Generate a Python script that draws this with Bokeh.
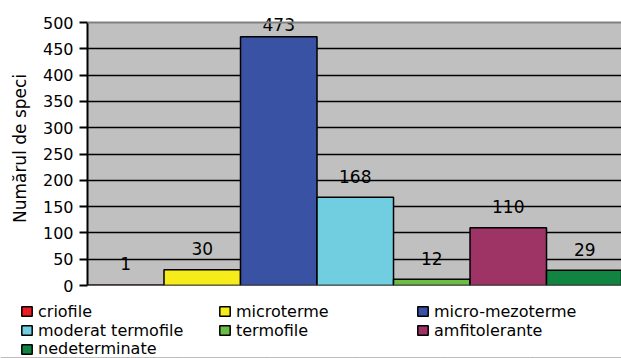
from bokeh.plotting import figure
from bokeh.models import (ColumnDataSource, FixedTicker, Range1d, Legend, LegendItem,
                          LabelSet, Span, BoxAnnotation)
from bokeh.core.properties import value
from bokeh.embed import file_html
from bokeh.resources import INLINE

# Ecological groups of species and their counts
categories = ["criofile", "microterme", "micro-mezoterme", "moderat termofile",
              "termofile", "amfitolerante", "nedeterminate"]
counts = [1, 30, 473, 168, 12, 110, 29]
colors = ["#ED1C24", "#F6EB1B", "#3A52A3", "#71CEE0", "#6BBD45", "#9D3465", "#128441"]
y_ticks = [0, 50, 100, 150, 200, 250, 300, 350, 400, 450, 500]

FONT = "DejaVu Sans"
W = 621
CHART_H, LEGEND_H = 295, 63
LEFT, TOP = 87, 11          # frame origin in pixels
Y_MAX = 500
TOP_PX, ZERO_PX = 22, 285   # pixel rows of 500 and 0
ppu = (ZERO_PX - TOP_PX) / Y_MAX
FRAME_H = CHART_H - TOP - 10
y_end = Y_MAX + (TOP_PX - TOP) / ppu
y_start = -(TOP + FRAME_H - ZERO_PX) / ppu

x = list(range(len(categories)))
# value labels float above each bar, kept just under the top edge for the tallest one
offsets = [min(21.0, (Y_MAX - c) * ppu - 2.0) for c in counts]

src = ColumnDataSource(dict(x=x, top=counts, color=colors, name=categories,
                            label=[str(c) for c in counts], yoff=offsets))

p = figure(width=W, height=CHART_H, output_backend="svg", toolbar_location=None,
           x_range=Range1d(-0.5, 6.48), y_range=Range1d(y_start, y_end),
           min_border_left=LEFT, min_border_top=TOP, min_border_right=0,
           min_border_bottom=10)

p.background_fill_color = "white"
p.border_fill_color = "white"
p.outline_line_color = None

# grey plot area covering 0..500
p.add_layout(BoxAnnotation(bottom=0, top=Y_MAX, fill_color="#C0C0C0", fill_alpha=1.0,
                           line_color=None, level="image"))

bars = p.vbar(x="x", top="top", width=1.0, bottom=0, source=src,
              fill_color="color", line_color="black", line_width=1.5)

p.add_layout(LabelSet(x="x", y="top", text="label", source=src, y_offset="yoff",
                      text_align="center", text_baseline="middle",
                      text_font=value(FONT), text_font_size=value("17px"),
                      text_color="black"))

# edges of the plot area at 0 and 500
p.add_layout(Span(location=Y_MAX, dimension="width", line_color="#808080", line_width=2))
p.add_layout(Span(location=0, dimension="width", line_color="#5A5A5A", line_width=1.5))

p.xaxis.visible = False
p.xgrid.visible = False

p.ygrid.ticker = FixedTicker(ticks=y_ticks[1:-1])
p.ygrid.grid_line_color = "black"
p.ygrid.grid_line_width = 1.5

ya = p.yaxis[0]
ya.ticker = FixedTicker(ticks=y_ticks)
ya.bounds = (0, Y_MAX)
ya.axis_line_color = "black"
ya.axis_line_width = 2
ya.major_tick_line_color = "black"
ya.major_tick_line_width = 2
ya.major_tick_out = 8
ya.major_tick_in = 0
ya.minor_tick_line_color = None
ya.major_label_text_font = FONT
ya.major_label_text_font_size = "16px"
ya.major_label_text_color = "black"
ya.major_label_standoff = 6
ya.axis_label = "Numărul de speci"
ya.axis_label_text_font = FONT
ya.axis_label_text_font_size = "17px"
ya.axis_label_text_font_style = "normal"
ya.axis_label_text_color = "black"
ya.axis_label_standoff = 10

# legend strip underneath the chart: three rows of up to three entries.
# The key bars sit below this strip's visible range, only their legend swatches show.
lg = figure(width=W, height=LEGEND_H, output_backend="svg", toolbar_location=None,
            x_range=Range1d(-0.5, 6.5), y_range=Range1d(600, 700),
            x_axis_location=None, y_axis_location=None,
            min_border_left=0, min_border_right=0, min_border_top=0, min_border_bottom=0)
lg.grid.visible = False
lg.outline_line_color = None
lg.background_fill_color = "white"
lg.border_fill_color = "white"
keys = lg.vbar(x="x", top="top", width=1.0, bottom=0, source=src,
               fill_color="color", line_color="black", line_width=1.5)

ROW_H = 19
row_centers = [16.3, 35.0, 53.7]
for r, center in enumerate(row_centers):
    idx = list(range(3 * r, min(3 * r + 3, len(categories))))
    items = [LegendItem(label=categories[i], renderers=[keys], index=i) for i in idx]
    lgd = Legend(items=items, orientation="horizontal",
                 location=(20, (LEGEND_H - ROW_H) - center + ROW_H / 2),
                 label_text_font=FONT, label_text_font_size="16px",
                 label_text_color="black", glyph_width=13, glyph_height=12,
                 label_height=ROW_H, label_width=180, label_standoff=5, spacing=0,
                 padding=0, margin=0, border_line_color=None, background_fill_alpha=0)
    lg.add_layout(lgd, "center")

open("out.html", "w").write(file_html([p, lg], INLINE))
